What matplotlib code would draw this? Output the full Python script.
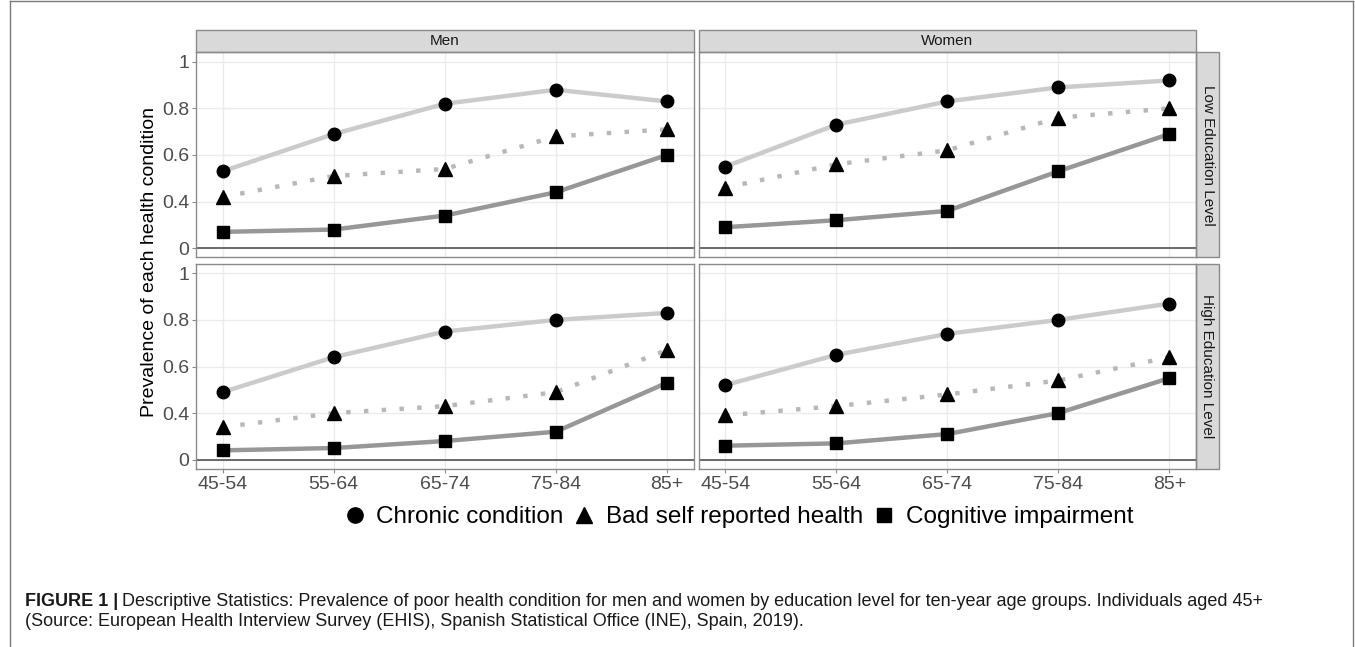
"""Prevalence of poor health conditions by sex, education level and age group"""

import matplotlib
matplotlib.use('Agg')
import matplotlib.pyplot as plt
from matplotlib.lines import Line2D
from matplotlib.patches import Rectangle

plt.rcParams['font.family'] = ['Liberation Sans', 'DejaVu Sans']

# age groups on the x axis
age_groups = ['45-54', '55-64', '65-74', '75-84', '85+']

# y axis: the figure labels its bottom break "0"
y_ticks = [0.2, 0.4, 0.6, 0.8, 1.0]
y_tick_labels = ['0', '0.4', '0.6', '0.8', '1']

# facets
sexes = ['Men', 'Women']
education_levels = ['Low Education Level', 'High Education Level']
conditions = ['Chronic condition', 'Bad self reported health', 'Cognitive impairment']

# values
men_low_chronic = [0.53, 0.69, 0.82, 0.88, 0.83]
men_low_bad = [0.42, 0.51, 0.54, 0.68, 0.71]
men_low_cog = [0.27, 0.28, 0.34, 0.44, 0.60]

women_low_chronic = [0.55, 0.73, 0.83, 0.89, 0.92]
women_low_bad = [0.46, 0.56, 0.62, 0.76, 0.80]
women_low_cog = [0.29, 0.32, 0.36, 0.53, 0.69]

men_high_chronic = [0.49, 0.64, 0.75, 0.80, 0.83]
men_high_bad = [0.34, 0.40, 0.43, 0.49, 0.67]
men_high_cog = [0.24, 0.25, 0.28, 0.32, 0.53]

women_high_chronic = [0.52, 0.65, 0.74, 0.80, 0.87]
women_high_bad = [0.39, 0.43, 0.48, 0.54, 0.64]
women_high_cog = [0.26, 0.27, 0.31, 0.40, 0.55]

caption_bold = 'FIGURE 1 |'
caption_line1 = ('Descriptive Statistics: Prevalence of poor health condition for men and women '
                 'by education level for ten-year age groups. Individuals aged 45+')
caption_line2 = '(Source: European Health Interview Survey (EHIS), Spanish Statistical Office (INE), Spain, 2019).'

W, H = 1355, 647


def fx(px):
    return px / W


def fy(py):
    return 1 - py / H


def draw_panel(ax, series, show_x, show_y):
    """一个分面"""
    x = list(range(1, len(age_groups) + 1))
    chronic, bad, cog = series

    ax.plot(x, chronic, color='#cbcbcb', lw=3.2, solid_capstyle='butt', zorder=3)
    ax.plot(x, bad, color='#b8b8b8', lw=3.2, linestyle=(0, (1, 3)), zorder=3)
    ax.plot(x, cog, color='#979797', lw=3.2, solid_capstyle='butt', zorder=3)
    ax.plot(x, chronic, 'o', color='black', ms=9, zorder=4)
    ax.plot(x, bad, '^', color='black', ms=9.5, zorder=4)
    ax.plot(x, cog, 's', color='black', ms=8.5, zorder=4)

    ax.axhline(y_ticks[0], color='#6a6a6a', lw=1.4, zorder=2)

    ax.set_xlim(0.76, 5.24)
    ax.set_ylim(0.16, 1.04)
    ax.set_xticks(x)
    ax.set_yticks(y_ticks)
    ax.grid(True, color='#ebebeb', lw=1.0, zorder=0)
    ax.set_axisbelow(True)
    for s in ax.spines.values():
        s.set_color('#8a8a8a')
        s.set_linewidth(1.0)
    ax.tick_params(length=3, color='#8a8a8a', labelsize=14, labelcolor='#4d4d4d', pad=2)
    if show_x:
        ax.set_xticklabels(age_groups)
    else:
        ax.set_xticklabels([])
        ax.tick_params(axis='x', length=0)
    if show_y:
        ax.set_yticklabels(y_tick_labels)
    else:
        ax.set_yticklabels([])
        ax.tick_params(axis='y', length=0)


def add_top_strip(ax, label, h):
    ax.add_patch(Rectangle((0, 1), 1, h, transform=ax.transAxes, clip_on=False,
                           facecolor='#d9d9d9', edgecolor='#8a8a8a', lw=1.0))
    ax.text(0.5, 1 + h / 2, label, transform=ax.transAxes, ha='center', va='center',
            fontsize=11, color='#1a1a1a')


def add_right_strip(ax, label, w):
    ax.add_patch(Rectangle((1, 0), w, 1, transform=ax.transAxes, clip_on=False,
                           facecolor='#d9d9d9', edgecolor='#8a8a8a', lw=1.0))
    ax.text(1 + w / 2, 0.5, label, transform=ax.transAxes, ha='center', va='center',
            rotation=-90, fontsize=11, color='#1a1a1a')


def main():
    fig = plt.figure(figsize=(W / 100, H / 100), dpi=100)

    data = {
        ('Men', 0): (men_low_chronic, men_low_bad, men_low_cog),
        ('Women', 0): (women_low_chronic, women_low_bad, women_low_cog),
        ('Men', 1): (men_high_chronic, men_high_bad, men_high_cog),
        ('Women', 1): (women_high_chronic, women_high_bad, women_high_cog),
    }

    # 面板位置 (像素)
    lefts = [196, 698.5]
    panel_w = 497.5
    tops = [52.5, 264]
    panel_h = 205

    axes = {}
    for r, top in enumerate(tops):
        for c, left in enumerate(lefts):
            ax = fig.add_axes([fx(left), fy(top + panel_h), panel_w / W, panel_h / H])
            draw_panel(ax, data[(sexes[c], r)], show_x=(r == 1), show_y=(c == 0))
            axes[(r, c)] = ax

    for c in range(2):
        add_top_strip(axes[(0, c)], sexes[c], 22.5 / panel_h)
    for r in range(2):
        add_right_strip(axes[(r, 1)], education_levels[r], 23 / panel_w)

    fig.text(fx(150), fy(262), 'Prevalence of each health condition', rotation=90,
             ha='center', va='center', fontsize=14, color='black')

    handles = [
        Line2D([], [], marker='o', color='black', linestyle='None', markersize=11),
        Line2D([], [], marker='^', color='black', linestyle='None', markersize=11.5),
        Line2D([], [], marker='s', color='black', linestyle='None', markersize=10),
    ]
    fig.legend(handles, conditions, loc='center', bbox_to_anchor=(fx(738), fy(517)),
               ncol=3, frameon=False, fontsize=17.5, handlelength=1.0,
               handletextpad=0.4, columnspacing=0.35, borderpad=0)

    # 图注
    t = fig.text(fx(25), fy(601), caption_bold, fontsize=13, fontweight='bold',
                 ha='left', va='center', color='#1a1a1a')
    renderer = fig.canvas.get_renderer()
    bb = t.get_window_extent(renderer)
    fig.text((bb.x1 + 4) / W, fy(601), caption_line1, fontsize=13,
             ha='left', va='center', color='#1a1a1a')
    fig.text(fx(25), fy(621), caption_line2, fontsize=13,
             ha='left', va='center', color='#1a1a1a')

    # 外框
    frame_color = '#7a7a7a'
    fig.add_artist(Line2D([fx(9.5), fx(9.5)], [0, fy(1)], color=frame_color, lw=1.0))
    fig.add_artist(Line2D([fx(9.5), fx(1353)], [fy(1), fy(1)], color=frame_color, lw=1.0))
    fig.add_artist(Line2D([fx(1353), fx(1353)], [fy(1), 0], color=frame_color, lw=1.0))

    fig.savefig('out.png', dpi=100)


if __name__ == "__main__":
    main()
